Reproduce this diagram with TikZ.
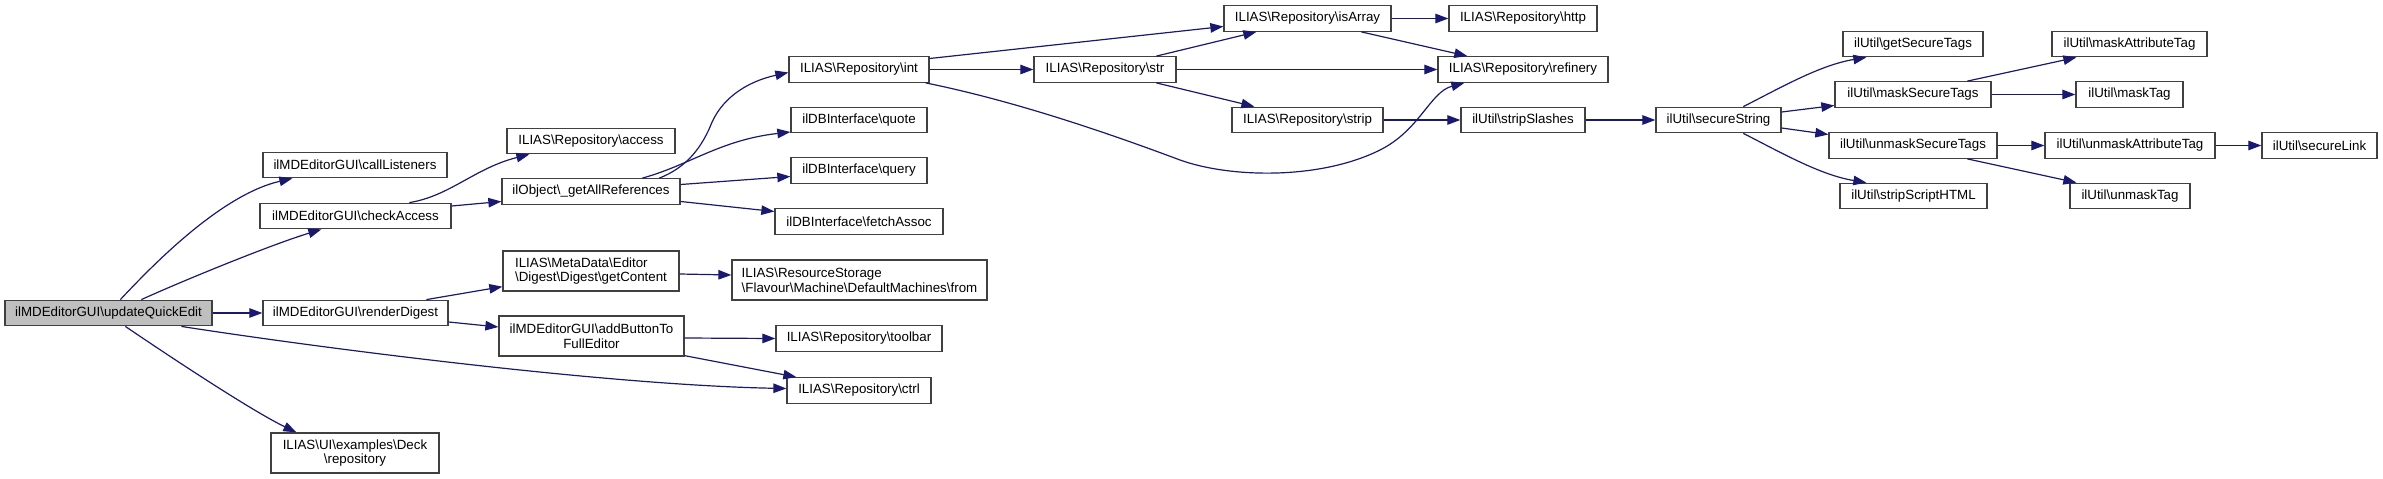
\documentclass[tikz,border=0pt]{standalone}
\usepackage{fontspec}
\setmainfont{Liberation Sans}
\usetikzlibrary{arrows.meta,calc}
\definecolor{edgec}{HTML}{191970}
\definecolor{boxc}{HTML}{404040}
\definecolor{rootc}{HTML}{BFBFBF}
\newcommand{\bsl}{\textbackslash}
\tikzset{
  fn/.style={draw=boxc, fill=white, line width=1.3pt, inner sep=0pt,
    minimum height=25.5pt, text=black,
    font=\fontsize{13.33}{14.6}\selectfont},
  fn2/.style={fn, minimum height=40pt},
  call/.style={draw=edgec, line width=1.2pt,
    -{Triangle[length=13pt,width=9.5pt]}}
}
\begin{document}
\begin{tikzpicture}[x=1pt,y=-1pt]
\useasboundingbox (0,0) rectangle (2383,479);
% nodes
\node[fn, fill=rootc, minimum width=207pt] (uqe) at (108.5,313) {ilMDEditorGUI\bsl updateQuickEdit};
\node[fn, minimum width=184pt] (cl) at (355,165) {ilMDEditorGUI\bsl callListeners};
\node[fn, minimum width=191pt] (ca) at (355.5,216) {ilMDEditorGUI\bsl checkAccess};
\node[fn, minimum width=185pt] (rd) at (355.5,313) {ilMDEditorGUI\bsl renderDigest};
\node[fn2, minimum width=168pt, align=center] (deck) at (355,453) {ILIAS\bsl UI\bsl examples\bsl Deck\\\bsl repository};
\node[fn, minimum width=168pt] (acc) at (591,141) {ILIAS\bsl Repository\bsl access};
\node[fn, minimum width=178pt] (gar) at (591,191.5) {ilObject\bsl \_getAllReferences};
\node[fn2, minimum width=176pt, align=left] (gc) at (591,271) {ILIAS\bsl MetaData\bsl Editor\\\bsl Digest\bsl Digest\bsl getContent};
\node[fn2, minimum width=185pt, align=center] (abt) at (591.5,336) {ilMDEditorGUI\bsl addButtonTo\\FullEditor};
\node[fn, minimum width=140pt] (int) at (859,69.5) {ILIAS\bsl Repository\bsl int};
\node[fn, minimum width=136pt] (quote) at (859,120) {ilDBInterface\bsl quote};
\node[fn, minimum width=136pt] (query) at (859,170.5) {ilDBInterface\bsl query};
\node[fn, minimum width=168pt] (fetch) at (859,221.5) {ilDBInterface\bsl fetchAssoc};
\node[fn2, minimum width=255pt, align=left] (from) at (859.5,280) {ILIAS\bsl ResourceStorage\\\bsl Flavour\bsl Machine\bsl DefaultMachines\bsl from};
\node[fn, minimum width=166pt] (toolbar) at (859,338.5) {ILIAS\bsl Repository\bsl toolbar};
\node[fn, minimum width=144pt] (ctrl) at (859,390.5) {ILIAS\bsl Repository\bsl ctrl};
\node[fn, minimum width=142pt] (str) at (1105,69.5) {ILIAS\bsl Repository\bsl str};
\node[fn, minimum width=167pt] (isArray) at (1307.5,18.5) {ILIAS\bsl Repository\bsl isArray};
\node[fn, minimum width=151pt] (strip) at (1307.5,120) {ILIAS\bsl Repository\bsl strip};
\node[fn, minimum width=148pt] (http) at (1523,18.5) {ILIAS\bsl Repository\bsl http};
\node[fn, minimum width=170pt] (refinery) at (1523,69.5) {ILIAS\bsl Repository\bsl refinery};
\node[fn, minimum width=124pt] (sslash) at (1523,120) {ilUtil\bsl stripSlashes};
\node[fn, minimum width=125pt] (sstring) at (1718.5,120) {ilUtil\bsl secureString};
\node[fn, minimum width=140pt] (gst) at (1913,44) {ilUtil\bsl getSecureTags};
\node[fn, minimum width=156pt] (mst) at (1913,94.5) {ilUtil\bsl maskSecureTags};
\node[fn, minimum width=168pt] (umst) at (1913,145.5) {ilUtil\bsl unmaskSecureTags};
\node[fn, minimum width=147pt] (ssh) at (1913.5,196) {ilUtil\bsl stripScriptHTML};
\node[fn, minimum width=155pt] (mat) at (2129.5,44) {ilUtil\bsl maskAttributeTag};
\node[fn, minimum width=107pt] (mtag) at (2129.5,94.5) {ilUtil\bsl maskTag};
\node[fn, minimum width=170pt] (umat) at (2130,145.5) {ilUtil\bsl unmaskAttributeTag};
\node[fn, minimum width=115pt] (slink) at (2319.5,145.5) {ilUtil\bsl secureLink};
\node[fn, minimum width=120pt] (umtag) at (2130,196) {ilUtil\bsl unmaskTag};
% edges from updateQuickEdit
\draw[call] ($(uqe.north west)+(116,0)$) .. controls (150,268) and (220,195) .. ($(cl.south west)+(30,0)$);
\draw[call] ($(uqe.north west)+(137,0)$) .. controls (180,282) and (270,245) .. ($(ca.south west)+(62,0)$);
\draw[call] (uqe.east) -- (rd.west);
\draw[call] ($(uqe.south west)+(177,0)$) .. controls (300,345) and (600,385) .. ($(ctrl.west)+(0,-2)$);
\draw[call] ($(uqe.south west)+(121,0)$) .. controls (160,350) and (250,410) .. ($(deck.north west)+(26,0)$);
% checkAccess
\draw[call] ($(ca.north west)+(150,0)$) .. controls (450,196) and (475,168) .. ($(acc.south west)+(23,0)$);
\draw[call] ($(ca.east)+(0,-10)$) -- ($(gar.west)+(0,10)$);
% renderDigest
\draw[call] ($(rd.north west)+(164,0)$) -- ($(gc.south west)+(0,-5)$);
\draw[call] ($(rd.east)+(0,9)$) -- ($(abt.west)+(0,-9)$);
% getAllReferences
\draw[call] ($(gar.north west)+(158,0)$) .. controls (685,168) and (700,150) .. (710,127)
  .. controls (720,100) and (745,82) .. ($(int.west)+(0,3)$);
\draw[call] ($(gar.north west)+(141,0)$) .. controls (690,165) and (720,140) .. ($(quote.west)+(0,12)$);
\draw[call] ($(gar.east)+(0,-7)$) -- ($(query.west)+(0,6)$);
\draw[call] ($(gar.east)+(0,10)$) -- ($(fetch.west)+(0,-10)$);
% getContent, addButton
\draw[call] ($(gc.east)+(0,3)$) -- ($(from.west)+(0,-5)$);
\draw[call] ($(abt.east)+(0,2)$) -- ($(toolbar.west)+(0,0)$);
\draw[call] ($(abt.south east)+(0,-1)$) -- ($(ctrl.north west)+(10,0)$);
% int
\draw[call] ($(int.east)+(0,-11)$) -- ($(isArray.west)+(0,8)$);
\draw[call] (int.east) -- (str.west);
\draw[call] ($(int.south east)+(-4,0)$) .. controls (1010,100) and (1100,130) .. (1180,160)
  .. controls (1230,178) and (1320,180) .. (1380,150)
  .. controls (1420,130) and (1430,92) .. ($(refinery.south west)+(27,0)$);
% str
\draw[call] ($(str.north west)+(123,0)$) -- ($(isArray.south west)+(33,0)$);
\draw[call] (str.east) -- (refinery.west);
\draw[call] ($(str.south west)+(123,0)$) -- ($(strip.north west)+(23,0)$);
% isArray, strip
\draw[call] (isArray.east) -- (http.west);
\draw[call] ($(isArray.south west)+(138,0)$) -- ($(refinery.north west)+(30,0)$);
\draw[call] (strip.east) -- (sslash.west);
\draw[call] (sslash.east) -- (sstring.west);
% secureString
\draw[call] ($(sstring.north west)+(88,0)$) .. controls (1780,88) and (1820,65) .. ($(gst.south west)+(24,0)$);
\draw[call] ($(sstring.east)+(0,-8)$) -- ($(mst.west)+(0,11)$);
\draw[call] ($(sstring.east)+(0,8)$) -- ($(umst.west)+(0,-11)$);
\draw[call] ($(sstring.south west)+(88,0)$) .. controls (1780,152) and (1820,175) .. ($(ssh.north west)+(27,0)$);
% mask / unmask
\draw[call] ($(mst.north west)+(133,0)$) -- ($(mat.south west)+(25,0)$);
\draw[call] (mst.east) -- (mtag.west);
\draw[call] (umst.east) -- (umat.west);
\draw[call] ($(umst.south west)+(139,0)$) -- ($(umtag.north west)+(7,0)$);
\draw[call] (umat.east) -- (slink.west);
\end{tikzpicture}
\end{document}
